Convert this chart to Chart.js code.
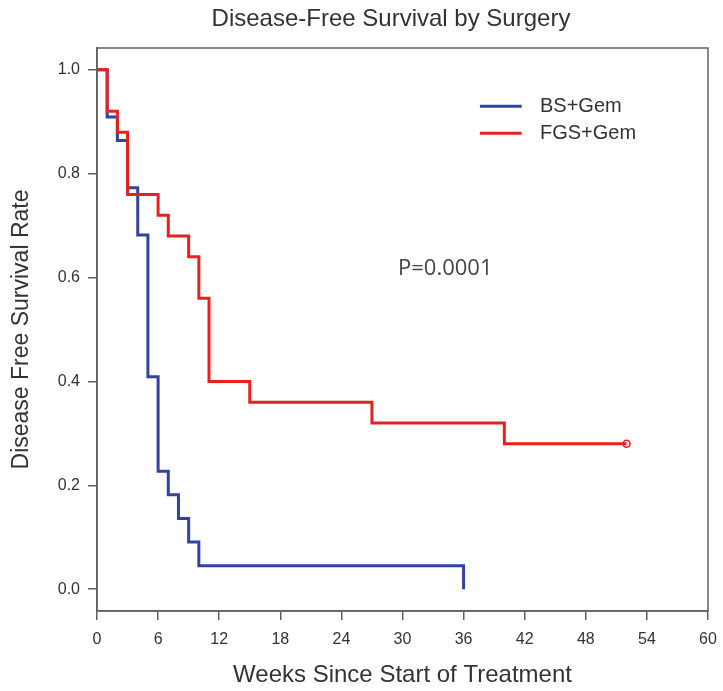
<!DOCTYPE html>
<html>
<head>
<meta charset="utf-8">
<script src="https://cdn.jsdelivr.net/npm/chart.js@4.4.1/dist/chart.umd.min.js"></script>
<style>
  html, body { margin: 0; padding: 0; background: #fff; }
</style>
</head>
<body>
<canvas id="dfsChart" width="723" height="691"></canvas>
<script>
/* Disease-free survival (Kaplan-Meier) by surgery */

const chartTitle = 'Disease-Free Survival by Surgery';
const pValueText = 'P=0.0001';

const xTicks = [0, 6, 12, 18, 24, 30, 36, 42, 48, 54, 60];
const yTicks = [0, 0.2, 0.4, 0.6, 0.8, 1.0];

const bsLabel = 'BS+Gem';
const bsWeeks = [0, 1, 2, 3, 4, 5, 6, 7, 8, 9, 10, 36, 36];
const bsSurvival = [1.0, 0.909, 0.864, 0.773, 0.682, 0.409, 0.227, 0.182, 0.136, 0.091, 0.045, 0.045, 0.0];

const fgsLabel = 'FGS+Gem';
const fgsWeeks = [0, 1, 2, 3, 6, 7, 9, 10, 11, 15, 27, 40, 52];
const fgsSurvival = [1.0, 0.92, 0.88, 0.76, 0.72, 0.68, 0.64, 0.56, 0.40, 0.36, 0.32, 0.28, 0.28];

const blue = '#3242a0';
const red = '#e8211f';
const textColor = '#333';
const axisColor = '#606060';

const toPoints = (xs, ys) => xs.map((x, i) => ({ x: x, y: ys[i] }));

// box, legend, p-value and main title
const extras = {
  id: 'extras',
  afterDraw(chart) {
    const ctx = chart.ctx;
    const a = chart.chartArea;
    const xs = chart.scales.x;
    const ys = chart.scales.y;
    ctx.save();
    ctx.strokeStyle = axisColor;
    ctx.lineWidth = 1.5;
    ctx.strokeRect(a.left, a.top, a.right - a.left, a.bottom - a.top);

    ctx.fillStyle = textColor;
    ctx.font = '24px "Liberation Sans", Arial, sans-serif';
    ctx.textAlign = 'center';
    ctx.textBaseline = 'middle';
    ctx.fillText(chartTitle, 391, 19);

    // legend
    const items = [[bsLabel, blue, 0.93], [fgsLabel, red, 0.878]];
    ctx.font = '20px "Liberation Sans", Arial, sans-serif';
    ctx.textAlign = 'left';
    items.forEach(([label, color, yv]) => {
      const y = ys.getPixelForValue(yv);
      ctx.strokeStyle = color;
      ctx.lineWidth = 3;
      ctx.beginPath();
      ctx.moveTo(xs.getPixelForValue(37.6), y);
      ctx.lineTo(xs.getPixelForValue(41.7), y);
      ctx.stroke();
      ctx.fillStyle = textColor;
      ctx.fillText(label, xs.getPixelForValue(43.5), y);
    });

    ctx.font = '22px "Open Sans", sans-serif';
    ctx.textAlign = 'center';
    ctx.fillStyle = '#444';
    ctx.fillText(pValueText, xs.getPixelForValue(34.2), ys.getPixelForValue(0.617));
    ctx.restore();
  }
};

const ctx = document.getElementById('dfsChart').getContext('2d');
const dfsChart = new Chart(ctx, {
  type: 'line',
  data: {
    datasets: [{
      label: fgsLabel,
      data: toPoints(fgsWeeks, fgsSurvival),
      borderColor: red,
      borderWidth: 3,
      stepped: 'before',
      fill: false,
      pointRadius: fgsWeeks.map((w, i) => i === fgsWeeks.length - 1 ? 3.5 : 0),
      pointBorderColor: red,
      pointBackgroundColor: 'rgba(0,0,0,0)',
      pointBorderWidth: 1.5,
      order: 0
    }, {
      label: bsLabel,
      data: toPoints(bsWeeks, bsSurvival),
      borderColor: blue,
      borderWidth: 3,
      stepped: 'before',
      fill: false,
      pointRadius: 0,
      order: 1
    }]
  },
  options: {
    responsive: false,
    animation: false,
    layout: { padding: { top: 48, right: 15, left: 0, bottom: 0 } },
    plugins: {
      legend: { display: false },
      title: { display: false },
      tooltip: { enabled: false }
    },
    scales: {
      x: {
        type: 'linear',
        min: 0,
        max: 60,
        afterBuildTicks: (scale) => { scale.ticks = xTicks.map(v => ({ value: v })); },
        afterFit: (scale) => { scale.height = 80; scale.paddingRight = 0; scale.paddingLeft = 0; },
        grid: { drawOnChartArea: false, tickLength: 9, color: axisColor, lineWidth: 1.5 },
        border: { color: axisColor, width: 1.5 },
        ticks: {
          color: textColor,
          padding: 10,
          maxRotation: 0,
          font: { family: '"Liberation Sans", Arial, sans-serif', size: 16 }
        },
        title: {
          display: true,
          text: 'Weeks Since Start of Treatment',
          color: textColor,
          padding: { top: 0, bottom: 1 },
          font: { family: '"Liberation Sans", Arial, sans-serif', size: 24 }
        }
      },
      y: {
        min: -0.042,
        max: 1.042,
        afterBuildTicks: (scale) => { scale.ticks = yTicks.map(v => ({ value: v })); },
        afterFit: (scale) => { scale.width = 97; },
        grid: { drawOnChartArea: false, tickLength: 9, color: axisColor, lineWidth: 1.5 },
        border: { color: axisColor, width: 1.5 },
        ticks: {
          color: textColor,
          padding: 8,
          callback: (v) => Number(v).toFixed(1),
          font: { family: '"Liberation Sans", Arial, sans-serif', size: 16 }
        },
        title: {
          display: true,
          text: 'Disease Free Survival Rate',
          color: textColor,
          padding: { top: 8, bottom: 0 },
          font: { family: '"Liberation Sans", Arial, sans-serif', size: 23 }
        }
      }
    }
  },
  plugins: [extras]
});
</script>
</body>
</html>
